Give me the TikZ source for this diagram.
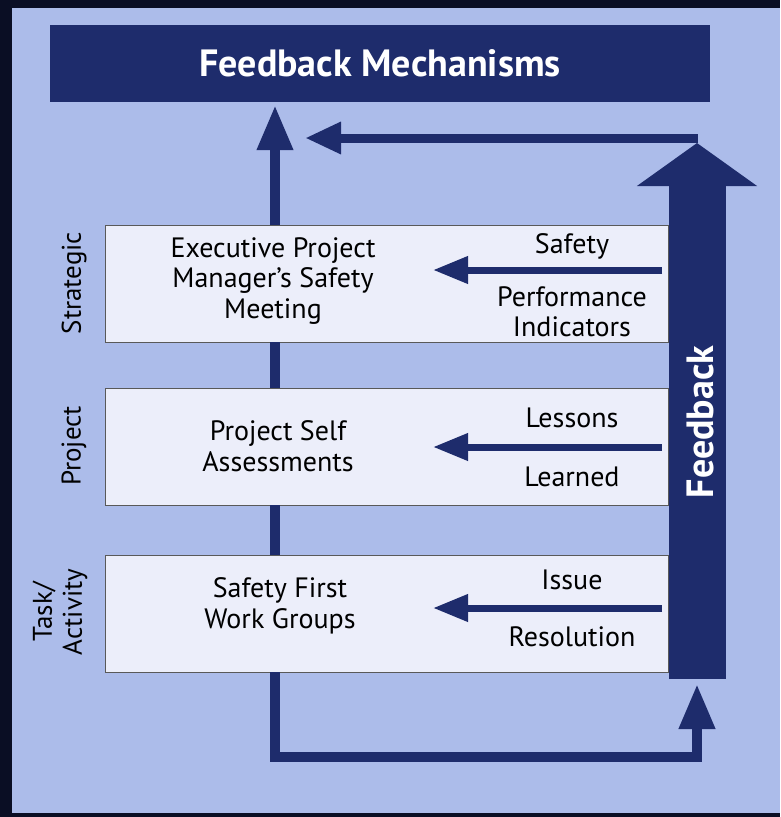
\documentclass[tikz,border=0pt]{standalone}
\usepackage{fontspec}
\setmainfont{PT Sans}
\usetikzlibrary{arrows.meta,positioning}
\definecolor{navy}{RGB}{30,44,108}
\definecolor{pagebg}{RGB}{172,188,234}
\definecolor{boxfill}{RGB}{236,238,250}
\definecolor{frame}{RGB}{10,14,36}

\begin{document}
\begin{tikzpicture}[x=1pt, y=-1pt,
    level/.style={draw=gray!70!black, line width=0.8pt, fill=boxfill,
      minimum width=563pt, minimum height=117pt, inner sep=0pt},
    boxtext/.style={align=center, font=\fontsize{28}{30.5}\selectfont},
    sidetext/.style={rotate=90, align=center, font=\fontsize{27}{30}\selectfont},
    pipe/.style={draw=navy, line width=10pt},
    feed/.style={draw=navy, line width=7pt, -{Triangle[length=35pt,width=26pt]}}]
  \useasboundingbox (0,0) rectangle (780,817);
  \fill[frame] (0,0) rectangle (780,817);
  \fill[pagebg] (12,8) rectangle (780,813);

  \node[fill=navy, minimum width=660pt, minimum height=77pt, text=white,
    font=\bfseries\fontsize{38}{40}\selectfont] (title) at (380,63.5) {Feedback Mechanisms};

  \node[level] (strat) at (386.5,283.5) {};
  \node[level] (proj) at (386.5,446.5) {};
  \node[level] (task) at (386.5,613.5) {};

  \node[boxtext] (strattxt) at (273,281) {Executive Project\\Manager’s Safety\\Meeting};
  \node[boxtext] (projtxt) at (278,446) {Project Self\\Assessments};
  \node[boxtext] (tasktxt) at (280,606) {Safety First\\Work Groups};

  \node[sidetext] (stratlbl) at (74,283) {Strategic};
  \node[sidetext] (projlbl) at (74,446) {Project};
  \node[sidetext] (tasklbl) at (60,612) {Task/\\Activity};

  \coordinate (spine) at (275,0);
  \draw[pipe, -{Triangle[length=45pt,width=34pt]}] (strat.north -| spine) -- ([yshift=-3pt]title.south -| spine);
  \draw[pipe] (strat.south -| spine) -- (proj.north -| spine);
  \draw[pipe] (proj.south -| spine) -- (task.north -| spine);

  % feedback column
  \coordinate (fbbot) at (697,679);
  \coordinate (fbtop) at (697,143);
  \draw[navy, line width=57pt, -{Triangle[length=43pt,width=118pt]}] (fbbot) -- (fbtop);
  \node[rotate=90, text=white, font=\bfseries\fontsize{38}{40}\selectfont] (fbtxt) at (700,422) {Feedback};

  \coordinate (ret) at (698,138);
  \coordinate (retend) at (305,138);
  \draw[draw=navy, line width=9pt, -{Triangle[length=36pt,width=30pt]}] (ret) -- (retend);

  \coordinate (loop) at (697,757);
  \coordinate (loopend) at (697,684);
  \draw[pipe, line join=miter, -{Triangle[length=45pt,width=34pt]}] (task.south -| spine) |- (loop) -- (loopend);

  % inner feedback arrows
  \coordinate (sa) at (662,270);
  \coordinate (sb) at (433,270);
  \coordinate (la) at (662,447);
  \coordinate (lb) at (433,447);
  \coordinate (ia) at (662,608);
  \coordinate (ib) at (433,608);
  \draw[feed] (sa) -- (sb);
  \draw[feed] (la) -- (lb);
  \draw[feed] (ia) -- (ib);

  \node[boxtext] (safety) at (572,246) {Safety};
  \node[boxtext] (perf) at (572,312) {Performance\\Indicators};
  \node[boxtext] (lessons) at (572,418) {Lessons};
  \node[boxtext] (learned) at (572,477) {Learned};
  \node[boxtext] (issue) at (572,580) {Issue};
  \node[boxtext] (resol) at (572,637) {Resolution};
\end{tikzpicture}
\end{document}
